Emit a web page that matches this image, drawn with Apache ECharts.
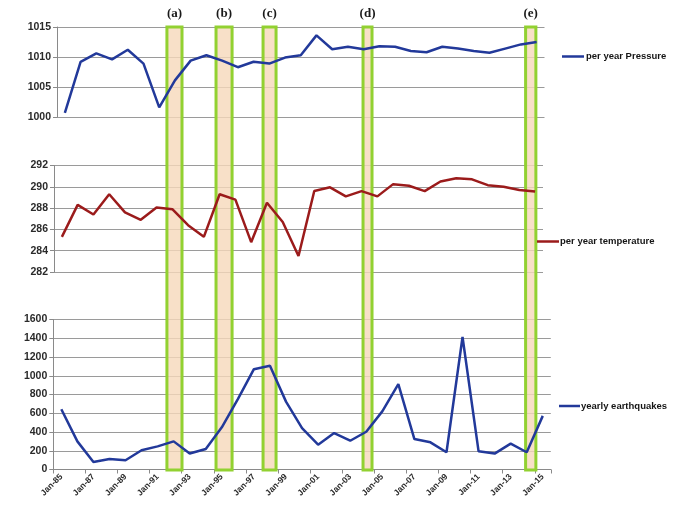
<!DOCTYPE html>
<html><head><meta charset="utf-8">
<script src="https://cdn.jsdelivr.net/npm/echarts@6/dist/echarts.min.js"></script>
<style>html,body{margin:0;padding:0;background:#fff}#c{width:685px;height:513px}</style>
</head><body><div id="c"></div>
<script>
// ---- data ----
const categories = ['Jan-85','Jan-86','Jan-87','Jan-88','Jan-89','Jan-90','Jan-91','Jan-92','Jan-93','Jan-94',
  'Jan-95','Jan-96','Jan-97','Jan-98','Jan-99','Jan-00','Jan-01','Jan-02','Jan-03','Jan-04',
  'Jan-05','Jan-06','Jan-07','Jan-08','Jan-09','Jan-10','Jan-11','Jan-12','Jan-13','Jan-14','Jan-15'];
const pressure = [1000.7,1009.2,1010.6,1009.6,1011.2,1008.9,1001.6,1006.1,1009.4,1010.3,
  1009.4,1008.3,1009.2,1008.9,1009.9,1010.3,1013.6,1011.3,1011.7,1011.3,
  1011.8,1011.7,1011.0,1010.8,1011.7,1011.4,1011.0,1010.7,1011.4,1012.1,1012.5];
const temperature = [285.3,288.3,287.4,289.3,287.6,286.9,288.05,287.9,286.4,285.3,
  289.3,288.8,284.8,288.5,286.7,283.5,289.6,289.95,289.1,289.6,
  289.1,290.25,290.1,289.6,290.5,290.8,290.7,290.15,290.0,289.7,289.55];
const earthquakes = [643,300,81,113,99,205,247,300,170,219,
  450,750,1070,1106,724,442,265,389,307,403,
  620,910,325,290,184,1413,194,170,276,184,572];
const seriesNames = ['per year Pressure','per year temperature','yearly earthquakes'];
// highlighted periods (in years; category centre = year)
const bandLabels = ['(a)','(b)','(c)','(d)','(e)'];
const bandStart = [1991.58, 1994.64, 1997.57, 2003.80, 2013.93];
const bandEnd   = [1992.52, 1995.64, 1998.38, 2004.36, 2014.57];
const yearMin = 1984.5, yearMax = 2015.5;

const axisGrey = '#8a8a8a';
const gridGrey = '#9a9a9a';
const labelFont = {fontFamily:'Liberation Sans', fontSize:10.5, fontWeight:'bold', color:'#2a2a2a'};
const legendFont = {fontFamily:'Liberation Sans', fontSize:9.5, fontWeight:'bold', color:'#151515'};
const blue = '#22399a', red = '#9b1b1b';

function yAx(gi, min, max, interval) {
  return {type:'value', gridIndex:gi, min, max, interval,
    axisLine:{show:true, lineStyle:{color:axisGrey, width:1}},
    axisTick:{show:true, length:4, lineStyle:{color:axisGrey}},
    axisLabel:Object.assign({margin:6, formatter:v=>String(v)}, labelFont),
    splitLine:{show:true, lineStyle:{color:gridGrey, width:1}}};
}

const bandData = bandLabels.map((n,i)=>[{name:n, xAxis:bandStart[i], yAxis:0},{xAxis:bandEnd[i], yAxis:1}]);

const option = {
  animation:false,
  backgroundColor:'#fff',
  grid:[
    {left:57, top:27, width:487.5, height:90},
    {left:54, top:165.5, width:489, height:106.5},
    {left:53.3, top:319.5, width:497.5, height:150},
    {left:53.3, top:27, width:497.5, height:443}
  ],
  xAxis:[
    {type:'category', gridIndex:0, data:categories, show:false},
    {type:'category', gridIndex:1, data:categories, show:false},
    {type:'category', gridIndex:2, data:categories,
      axisLine:{show:true, lineStyle:{color:axisGrey}},
      axisTick:{show:true, interval:1, length:4, lineStyle:{color:axisGrey}},
      axisLabel:{interval:1, rotate:45, margin:6, fontFamily:'Liberation Sans', fontSize:8.5, fontWeight:'bold', color:'#2a2a2a'},
      splitLine:{show:false}},
    {type:'value', gridIndex:3, min:yearMin, max:yearMax, show:false}
  ],
  yAxis:[
    yAx(0, 1000, 1015, 5),
    yAx(1, 282, 292, 2),
    yAx(2, 0, 1600, 200),
    {type:'value', gridIndex:3, min:0, max:1, show:false}
  ],
  legend:[
    {data:[seriesNames[0]], left:562, top:51.5, padding:0, itemWidth:22, itemHeight:2.5, icon:'rect',
      textStyle:Object.assign({padding:[0,0,0,-3]}, legendFont)},
    {data:[seriesNames[1]], left:537, top:236.5, padding:0, itemWidth:22, itemHeight:2.5, icon:'rect',
      textStyle:Object.assign({padding:[0,0,0,-4]}, legendFont)},
    {data:[seriesNames[2]], left:559, top:401, padding:0, itemWidth:21, itemHeight:2.5, icon:'rect',
      textStyle:Object.assign({padding:[0,0,0,-4]}, legendFont)}
  ],
  series:[
    {type:'line', xAxisIndex:3, yAxisIndex:3, data:[], z:0, silent:true,
      markArea:{silent:true,
        itemStyle:{color:'rgba(246,216,186,0.8)', borderColor:'#92d131', borderWidth:3},
        label:{show:true, position:'top', distance:5, fontFamily:'Liberation Serif', fontWeight:'bold', fontSize:13, color:'#1a1a1a'},
        data:bandData}},
    {name:seriesNames[0], type:'line', xAxisIndex:0, yAxisIndex:0, data:pressure, zlevel:1,
      showSymbol:false, symbol:'none', lineStyle:{color:blue, width:2.5}, itemStyle:{color:blue}},
    {name:seriesNames[1], type:'line', xAxisIndex:1, yAxisIndex:1, data:temperature, zlevel:1,
      showSymbol:false, symbol:'none', lineStyle:{color:red, width:2.5}, itemStyle:{color:red}},
    {name:seriesNames[2], type:'line', xAxisIndex:2, yAxisIndex:2, data:earthquakes, zlevel:1,
      showSymbol:false, symbol:'none', lineStyle:{color:blue, width:2.5}, itemStyle:{color:blue}}
  ]
};
const chart = echarts.init(document.getElementById('c'), null, {renderer:'canvas'});
chart.setOption(option);
</script>
</body></html>
